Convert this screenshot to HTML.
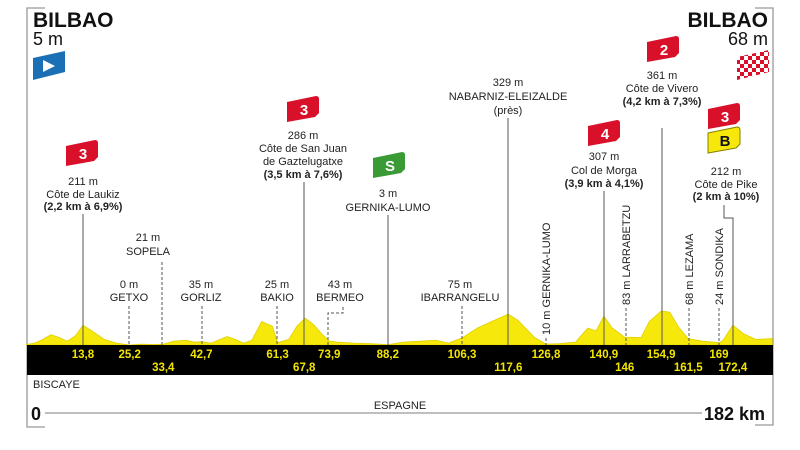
<!DOCTYPE html>
<html><head><meta charset="utf-8">
<style>
html,body{margin:0;padding:0;background:#fff;}
svg{display:block;font-family:"Liberation Sans",sans-serif;}
.t{font-size:11px;fill:#222;text-anchor:middle;}
.b{font-weight:bold;}
.km{font-size:11.5px;font-weight:bold;fill:#f2e600;text-anchor:middle;}
</style></head><body>
<svg id="c" width="800" height="450" viewBox="0 0 800 450">
<g stroke="#999" stroke-width="1.3" fill="none">
<path d="M45,8 H27 V427 H45"/>
<path d="M755,8 H773 V425 H755"/>
</g>
<text x="33" y="27" font-size="21" font-weight="bold" fill="#111">BILBAO</text>
<text x="33" y="45" font-size="18" fill="#111">5 m</text>
<g><path d="M33,58 L65,51 L65,72 L33,80 Z" fill="#1a6fb5"/><path d="M43,60 L55,66 L43,72 Z" fill="#fff"/></g>
<text x="768" y="27" font-size="21" font-weight="bold" fill="#111" text-anchor="end">BILBAO</text>
<text x="768" y="45" font-size="18" fill="#111" text-anchor="end">68 m</text>
<g>
<defs><pattern id="chk" width="8" height="8" patternUnits="userSpaceOnUse"><rect width="8" height="8" fill="#d8102a"/><rect width="4" height="4" fill="#fff"/><rect x="4" y="4" width="4" height="4" fill="#fff"/></pattern></defs>
<path d="M737,57 L769,50 L769,72 L737,80 Z" fill="url(#chk)"/></g>
<g id="profile"></g>
<rect x="27" y="345" width="746" height="30" fill="#000"/>
<g id="kms"></g>
<g id="labels"></g>
<text x="33" y="388" font-size="11" fill="#222">BISCAYE</text>
<text x="400" y="409" font-size="11" fill="#222" text-anchor="middle">ESPAGNE</text>
<line x1="45" y1="413" x2="702" y2="413" stroke="#999" stroke-width="1.3"/>
<text x="31" y="420" font-size="18" font-weight="bold" fill="#111">0</text>
<text x="765" y="420" font-size="18" font-weight="bold" fill="#111" text-anchor="end">182 km</text>
</svg>
<script>
const profileKm=[0,2,4,6,8,10,12,13.8,16,19,22,25.2,28,31,33.4,36,39,41,42.7,45,49,51,53,55,57.4,60,61.3,64,66,68,70,72,73.9,76,80,84,88.2,92,96,100,103,106.3,110,114,117.6,120,124,126.8,130,134,137,139,140.9,143,146,150,152,154.9,157,159,161.5,165,169,170,172.4,175,178,182];
const profileAlt=[5,20,60,110,80,40,100,211,150,60,20,0,10,5,10,40,50,30,35,20,90,60,20,50,250,200,25,60,200,286,220,120,43,30,20,15,3,30,40,50,20,75,180,260,329,260,80,10,15,30,180,150,307,180,83,80,250,361,350,200,68,40,24,50,212,120,60,68];
const kmTicks=[13.8,25.2,33.4,42.7,61.3,67.8,73.9,88.2,106.3,117.6,126.8,140.9,146,154.9,161.5,169,172.4];
const kmTickLabels=["13,8","25,2","33,4","42,7","61,3","67,8","73,9","88,2","106,3","117,6","126,8","140,9","146","154,9","161,5","169","172,4"];
const kmTickRow=[0,0,1,0,0,1,0,0,0,1,0,0,1,0,1,0,1];
const NS="http://www.w3.org/2000/svg";
const X=km=>26.4+km*4.098;
const Y=m=>345-m*0.094;
function el(tag,attrs,parent){const e=document.createElementNS(NS,tag);for(const k in attrs)e.setAttribute(k,attrs[k]);parent.appendChild(e);return e;}
const prof=document.getElementById('profile');
let d="M"+X(0)+",345";
profileKm.forEach((k,i)=>{d+=" L"+X(k).toFixed(1)+","+Y(profileAlt[i]).toFixed(1);});
d+=" L"+X(182)+",345 Z";
const area=el('path',{d:d,fill:'#f5e80a',stroke:'#e0d000','stroke-width':0.8},prof);


const kg=document.getElementById('kms');
kmTicks.forEach((k,i)=>{
 const t=el('text',{x:X(k),y:kmTickRow[i]?371:358,class:'km'},kg);
 t.textContent=kmTickLabels[i];
 
 
});
const L=document.getElementById('labels');
function txt(x,y,s,cls,name){const t=el('text',{x:x,y:y,class:'t '+(cls||'')},L);t.textContent=s;return t;}
function line(x,y1,y2,dash,name){const l=el('line',{x1:x,x2:x,y1:y1,y2:y2,stroke:'#555','stroke-width':1,'stroke-dasharray':dash?'3,2':'none'},L);}
function flag(x,y,color,label,tc,name){const g=el('g',{},L);
 el('path',{d:`M${x},${y+6} L${x+29},${y} Q${x+32},${y} ${x+32},${y+3} L${x+32},${y+17} L${x+28},${y+21} L${x},${y+26} Z`,fill:color},g);
 const t=el('text',{x:x+17,y:y+19,'font-size':15,'font-weight':'bold',fill:tc,'text-anchor':'middle'},g);t.textContent=label;}
// Laukiz
flag(66,140,'#d8102a','3','#fff','kom-flag-laukiz');
txt(83,185,'211 m','','laukiz-alt');txt(83,198,'Côte de Laukiz','','laukiz-name');txt(83,210,'(2,2 km à 6,9%)','b','laukiz-grade');
line(83,214,345,false,'laukiz-line');
// Sopela
txt(148,241,'21 m','','sopela-alt');txt(148,255,'SOPELA','','sopela-name');line(162,262,345,true,'sopela-line');
txt(129,288,'0 m','','getxo-alt');txt(129,301,'GETXO','','getxo-name');line(129,306,345,true,'getxo-line');
txt(201,288,'35 m','','gorliz-alt');txt(201,301,'GORLIZ','','gorliz-name');line(202,306,345,true,'gorliz-line');
txt(277,288,'25 m','','bakio-alt');txt(277,301,'BAKIO','','bakio-name');line(277,306,345,true,'bakio-line');
// San Juan
flag(287,96,'#d8102a','3','#fff','kom-flag-san-juan');
txt(303,139,'286 m','','sanjuan-alt');txt(303,152,'Côte de San Juan','','sanjuan-name');txt(303,165,'de Gaztelugatxe','','sanjuan-name2');txt(303,178,'(3,5 km à 7,6%)','b','sanjuan-grade');
line(304,182,345,false,'sanjuan-line');
txt(340,288,'43 m','','bermeo-alt');txt(340,301,'BERMEO','','bermeo-name');
const bp=el('path',{d:'M328,345 V313 H343 V307',stroke:'#555',fill:'none','stroke-dasharray':'3,2'},L);
// Sprint
flag(373,152,'#3a9a35','S','#fff','sprint-flag');
txt(388,197,'3 m','','sprint-alt');txt(388,211,'GERNIKA-LUMO','','sprint-name');line(388,215,345,false,'sprint-line');
txt(460,288,'75 m','','ibarrangelu-alt');txt(460,301,'IBARRANGELU','','ibarrangelu-name');line(462,306,345,true,'ibarrangelu-line');
txt(508,86,'329 m','','nabarniz-alt');txt(508,100,'NABARNIZ-ELEIZALDE','','nabarniz-name');txt(508,114,'(près)','','nabarniz-pres');line(508,118,345,false,'nabarniz-line');
function rot(x,y,s,name){const t=el('text',{x:x,y:y,'font-size':11,fill:'#222',transform:`rotate(-90 ${x} ${y})`},L);t.textContent=s;}
rot(550,335,'10 m GERNIKA-LUMO','gernika-rot-label');line(546,338,345,true,'gernika2-line');
// Morga
flag(588,120,'#d8102a','4','#fff','kom-flag-morga');
txt(604,160,'307 m','','morga-alt');txt(604,174,'Col de Morga','','morga-name');txt(604,187,'(3,9 km à 4,1%)','b','morga-grade');line(604,191,345,false,'morga-line');
rot(630,305,'83 m LARRABETZU','larrabetzu-label');line(626,308,345,true,'larrabetzu-line');
// Vivero
flag(647,36,'#d8102a','2','#fff','kom-flag-vivero');
txt(662,79,'361 m','','vivero-alt');txt(662,92,'Côte de Vivero','','vivero-name');txt(662,105,'(4,2 km à 7,3%)','b','vivero-grade');line(662,128,345,false,'vivero-line');
rot(693,305,'68 m LEZAMA','lezama-label');line(689,308,345,true,'lezama-line');
rot(723,305,'24 m SONDIKA','sondika-label');line(719,308,345,true,'sondika-line');
// Pike
flag(708,103,'#d8102a','3','#fff','kom-flag-pike');
flag(708,127,'#f5e80a','B','#111','bonus-flag');
const bb=L.lastChild.firstChild;bb.setAttribute('stroke','#8a8000');
txt(726,175,'212 m','','pike-alt');txt(726,188,'Côte de Pike','','pike-name');txt(726,200,'(2 km à 10%)','b','pike-grade');
const pp=el('path',{d:'M724,205 V218 H733 V345',stroke:'#555',fill:'none'},L);
</script>
</body></html>
